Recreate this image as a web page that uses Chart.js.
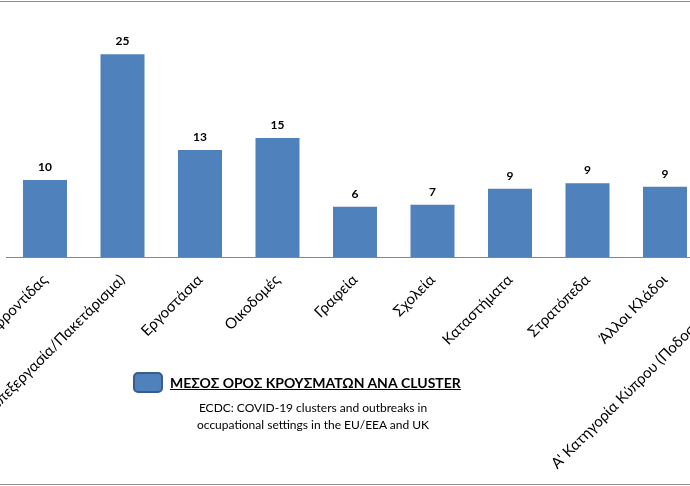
<!DOCTYPE html>
<html>
<head>
<meta charset="utf-8">
<script src="https://cdn.jsdelivr.net/npm/chart.js@4.4.0/dist/chart.umd.min.js"></script>
<style>
  html, body { margin: 0; padding: 0; background: #fff; overflow: hidden; }
  body { width: 690px; height: 486px; position: relative; font-family: Lato, "Noto Sans", sans-serif; }
  .rule { position: absolute; left: 0; width: 690px; height: 1px; background: #8c8c8c; }
  #wrap { position: absolute; left: -100px; top: 0; width: 900px; height: 486px; }
  #legBox { position: absolute; left: 133px; top: 372px; width: 30px; height: 21px; box-sizing: border-box;
    background: #4f81bd; border: 2px solid #385d8a; border-radius: 5px; }
  #legTitle { position: absolute; left: 170px; top: 373px; font-size: 14px; font-weight: bold;
    text-decoration: underline; color: #000; white-space: nowrap; line-height: 20px; }
  #legNote { position: absolute; left: 163px; top: 399px; width: 300px; text-align: center;
    font-size: 12px; line-height: 17px; color: #000; }
</style>
</head>
<body>
<div class="rule" style="top:1px"></div>
<div class="rule" style="top:484px"></div>
<div id="wrap"><canvas id="clusterChart" width="900" height="486"></canvas></div>
<div id="legBox"></div>
<div id="legTitle"></div>
<div id="legNote"></div>

<script>
const categories = [
  "Μονάδες φροντίδας",
  "Τρόφιμα (επεξεργασία/Πακετάρισμα)",
  "Εργοστάσια",
  "Οικοδομές",
  "Γραφεία",
  "Σχολεία",
  "Καταστήματα",
  "Στρατόπεδα",
  "Άλλοι Κλάδοι",
  "Α' Κατηγορία Κύπρου (Ποδοσφαιριστές)"
];
const meanCases = [9.65, 25.4, 13.4, 14.9, 6.3, 6.55, 8.55, 9.25, 8.8, 8];
const seriesName = "ΜΕΣΟΣ ΟΡΟΣ ΚΡΟΥΣΜΑΤΩΝ ΑΝΑ CLUSTER";
const sourceLines = [
  "ECDC: COVID-19 clusters and outbreaks in",
  "occupational settings in the EU/EEA  and UK"
];

document.getElementById("legTitle").textContent = seriesName;
document.getElementById("legNote").innerHTML = sourceLines.join("<br>");

// value labels above each bar, rounded like the original
const barValues = {
  id: "barValues",
  afterDatasetsDraw(chart) {
    const ctx = chart.ctx;
    const meta = chart.getDatasetMeta(0);
    ctx.save();
    ctx.font = "bold 12px Lato, 'Noto Sans', sans-serif";
    ctx.fillStyle = "#000";
    ctx.textAlign = "center";
    ctx.textBaseline = "middle";
    meta.data.forEach((bar, i) => {
      ctx.fillText(Math.round(meanCases[i]), bar.x, bar.y - 13);
    });
    ctx.restore();
  }
};

const data = {
  labels: categories,
  datasets: [
    {
      label: seriesName,
      data: meanCases,
      backgroundColor: "#4f81bd",
      categoryPercentage: 1,
      barPercentage: 0.568,
    },
  ],
};

const config = {
  type: "bar",
  data: data,
  options: {
    responsive: false,
    animation: false,
    layout: { padding: { left: 106.25, right: 18.75, top: 17.6, bottom: 0 } },
    plugins: {
      legend: { display: false },
      tooltip: { enabled: false },
    },
    scales: {
      x: {
        grid: { display: false },
        border: { color: "#868686", width: 1 },
        ticks: {
          autoSkip: false,
          minRotation: 45,
          maxRotation: 45,
          padding: 6,
          color: "#000",
          font: { family: "Lato, 'Noto Sans', sans-serif", size: 15 },
        },
        afterFit: (scale) => {
          scale.paddingLeft = 0;
          scale.paddingRight = 0;
          scale.height = 229;
        },
      },
      y: { display: false, min: 0, max: 30 },
    },
  },
  plugins: [barValues],
};

const ctx = document.getElementById("clusterChart").getContext("2d");
const resultChart = new Chart(ctx, config);
</script>
</body>
</html>
